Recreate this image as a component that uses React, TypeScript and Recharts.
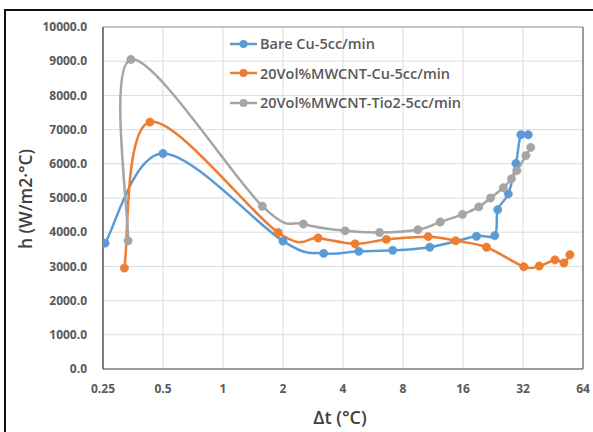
import React from "react";
import {
  LineChart,
  Line,
  XAxis,
  YAxis,
  CartesianGrid,
  ReferenceLine,
} from "recharts";

// ---- Data ----
const bareX = [0.256, 0.5, 2.0, 3.2, 4.8, 7.1, 10.9, 18.7, 23.1, 23.9, 27, 29.5, 31.2, 34];
const bareY = [3680, 6300, 3740, 3380, 3440, 3470, 3560, 3880, 3900, 4660, 5120, 6010, 6850, 6850];

const cuX = [0.32, 0.43, 1.89, 3.0, 4.6, 6.6, 10.7, 14.7, 21, 32.3, 38.6, 46.3, 51.3, 55];
const cuY = [2950, 7220, 3990, 3830, 3660, 3790, 3870, 3750, 3560, 2990, 3010, 3190, 3100, 3340];

const tiX = [0.334, 0.345, 1.575, 2.53, 4.1, 6.1, 9.5, 12.3, 15.9, 19.2, 22, 25.5, 28, 29.8, 33.1, 35];
const tiY = [3750, 9050, 4760, 4240, 4040, 3990, 4070, 4300, 4520, 4740, 5000, 5300, 5560, 5800, 6240, 6480];

const xTicks = [0.25, 0.5, 1, 2, 4, 8, 16, 32, 64];
const yTicks = [0, 1000, 2000, 3000, 4000, 5000, 6000, 7000, 8000, 9000, 10000];

const seriesNames = [
  "Bare Cu-5cc/min",
  "20Vol%MWCNT-Cu-5cc/min",
  "20Vol%MWCNT-Tio2-5cc/min",
];
const seriesColors = ["#5B9BD5", "#ED7D31", "#A5A5A5"];

const zip = (xs: number[], ys: number[]) => xs.map((x, i) => ({ x, y: ys[i] }));
const bareData = zip(bareX, bareY);
const cuData = zip(cuX, cuY);
const tiData = zip(tiX, tiY);

const FONT = "'Open Sans', 'Liberation Sans', sans-serif";
const TEXT = "#595959";

// Excel-style smoothed line (Catmull-Rom like Bezier, tension 1/6)
const excelCurve: any = (context: any) => {
  let pts: [number, number][] = [];
  return {
    areaStart() {},
    areaEnd() {},
    lineStart() {
      pts = [];
    },
    point(x: number, y: number) {
      pts.push([+x, +y]);
    },
    lineEnd() {
      if (!pts.length) return;
      context.moveTo(pts[0][0], pts[0][1]);
      for (let i = 0; i < pts.length - 1; i++) {
        const p0 = pts[i - 1] || pts[i];
        const p1 = pts[i];
        const p2 = pts[i + 1];
        const p3 = pts[i + 2] || p2;
        const c1x = p1[0] + (p2[0] - p0[0]) / 6;
        const c1y = p1[1] + (p2[1] - p0[1]) / 6;
        const c2x = p2[0] - (p3[0] - p1[0]) / 6;
        const c2y = p2[1] - (p3[1] - p1[1]) / 6;
        context.bezierCurveTo(c1x, c1y, c2x, c2y, p2[0], p2[1]);
      }
    },
  };
};

const dot = (c: string) => ({ r: 4.2, fill: c, stroke: c, strokeWidth: 0.5 });

export default function App() {
  return (
    <div
      style={{
        position: "absolute",
        left: 0,
        top: 0,
        width: 593,
        height: 432,
        background: "#fff",
        overflow: "hidden",
      }}
    >
      <div
        style={{
          position: "absolute",
          left: 4,
          top: 9,
          width: 600,
          height: 430,
          borderTop: "2.5px solid #111",
          borderLeft: "2.5px solid #111",
        }}
      />
      <div style={{ position: "absolute", left: 0, top: 0 }}>
        <LineChart
          width={593}
          height={432}
          margin={{ top: 27, right: 10, bottom: 33, left: 43 }}
        >
          <CartesianGrid stroke="#dcdcdc" strokeWidth={1} />
          <XAxis
            dataKey="x"
            type="number"
            scale="log"
            domain={[0.25, 64]}
            ticks={xTicks}
            allowDataOverflow
            height={30}
            tickLine={false}
            axisLine={{ stroke: "#7f7f7f", strokeWidth: 1.5 }}
            tick={{ fontSize: 12, fontWeight: 700, fill: TEXT, fontFamily: FONT }}
            tickMargin={9}
          />
          <YAxis
            type="number"
            domain={[0, 10000]}
            ticks={yTicks}
            width={60}
            tickLine={false}
            axisLine={{ stroke: "#595959", strokeWidth: 1.5 }}
            tick={{ fontSize: 12, fontWeight: 700, fill: TEXT, fontFamily: FONT }}
            tickFormatter={(v: number) => v.toFixed(1)}
            tickMargin={10}
          />
          <ReferenceLine y={10000} stroke="#9a9a9a" strokeWidth={1.2} />
          <ReferenceLine x={64} stroke="#7f7f7f" strokeWidth={1.5} />
          <Line
            data={bareData}
            dataKey="y"
            name={seriesNames[0]}
            type={excelCurve}
            stroke={seriesColors[0]}
            strokeWidth={2.5}
            dot={dot(seriesColors[0])}
            isAnimationActive={false}
          />
          <Line
            data={cuData}
            dataKey="y"
            name={seriesNames[1]}
            type={excelCurve}
            stroke={seriesColors[1]}
            strokeWidth={2.5}
            dot={dot(seriesColors[1])}
            isAnimationActive={false}
          />
          <Line
            data={tiData}
            dataKey="y"
            name={seriesNames[2]}
            type={excelCurve}
            stroke={seriesColors[2]}
            strokeWidth={2.5}
            dot={dot(seriesColors[2])}
            isAnimationActive={false}
          />
        </LineChart>
      </div>
      <div
        style={{
          position: "absolute",
          left: 230,
          top: 29,
          fontFamily: FONT,
          background: "transparent",
        }}
      >
        {seriesNames.map((n, i) => (
          <div key={n} style={{ display: "flex", alignItems: "center", height: 29.5 }}>
            <svg width={28} height={12} style={{ marginRight: 2 }}>
              <line x1={0} y1={6} x2={27} y2={6} stroke={seriesColors[i]} strokeWidth={2.5} />
              <circle cx={13.5} cy={6} r={4} fill={seriesColors[i]} />
            </svg>
            <span style={{ fontSize: 14.5, fontWeight: 600, color: TEXT, whiteSpace: "nowrap" }}>
              {n}
            </span>
          </div>
        ))}
      </div>
      <div
        style={{
          position: "absolute",
          left: 25,
          top: 199,
          transform: "translate(-50%, -50%) rotate(-90deg)",
          fontFamily: FONT,
          fontSize: 17.5,
          fontWeight: 600,
          color: "#404040",
          whiteSpace: "nowrap",
        }}
      >
        h (W/m2·°C)
      </div>
      <div
        style={{
          position: "absolute",
          left: 340,
          top: 417,
          transform: "translate(-50%, -50%)",
          fontFamily: FONT,
          fontSize: 18,
          fontWeight: 600,
          color: "#404040",
          whiteSpace: "nowrap",
        }}
      >
        Δt (°C)
      </div>
    </div>
  );
}
